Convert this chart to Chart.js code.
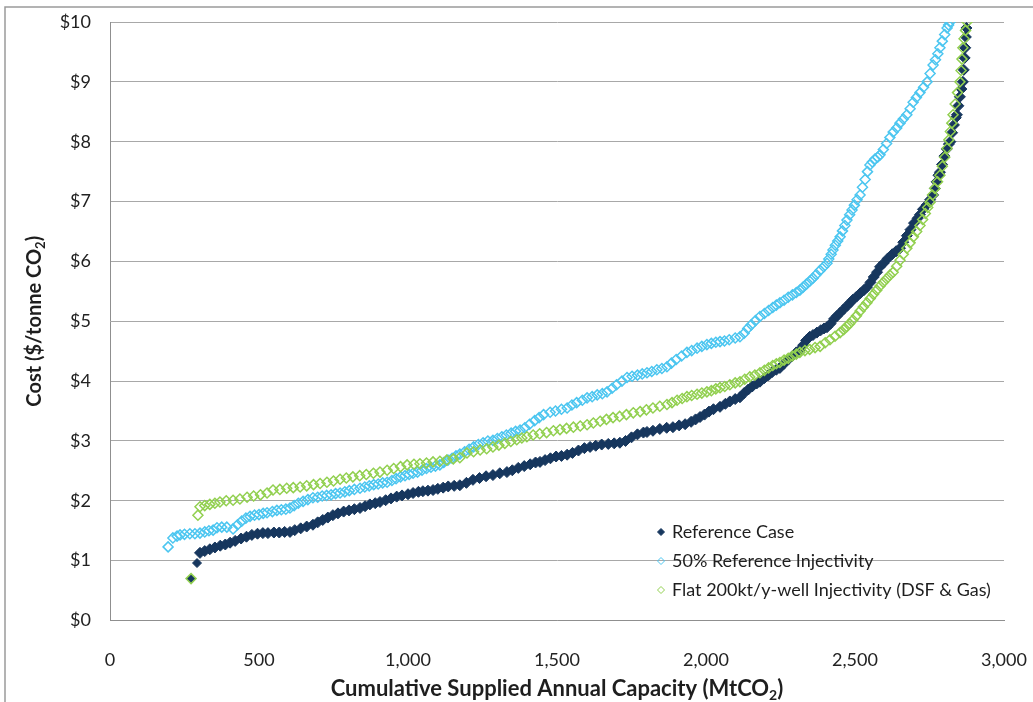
<!DOCTYPE html>
<html>
<head>
<meta charset="utf-8">
<style>
  html, body { margin: 0; padding: 0; background: #fff; }
  #wrap { position: relative; width: 1033px; height: 702px; }
  canvas { display: block; }
</style>
<script src="https://cdn.jsdelivr.net/npm/chart.js@4/dist/chart.umd.min.js"></script>
</head>
<body>
<div id="wrap"><canvas id="c" width="1033" height="702"></canvas></div>
<script>
// Cumulative supplied annual capacity (MtCO2) vs. cost ($/tonne CO2)
const seriesNames = [
  'Reference Case',
  '50% Reference Injectivity',
  'Flat 200kt/y-well Injectivity (DSF & Gas)'
];

const refCapacity = [272,292,302,318,335,352,370,387,403,420,440,458,476,495,513,530,550,568,586,604,620,640,660,681,697,714,731,748,765,784,802,820,839,856,872,890,906,925,943,962,980,1000,1017,1035,1050,1067,1084,1100,1118,1135,1155,1174,1196,1218,1240,1262,1285,1308,1332,1350,1370,1390,1410,1428,1443,1460,1478,1497,1515,1534,1552,1572,1592,1611,1630,1650,1672,1692,1711,1730,1750,1770,1790,1802,1822,1845,1868,1889,1910,1930,1950,1965,1980,1995,2010,2025,2047,2065,2080,2098,2114,2128,2142,2155,2170,2181,2196,2210,2222,2236,2248,2262,2276,2290,2303,2315,2326,2336,2348,2359,2372,2385,2396,2406,2418,2430,2440,2450,2462,2474,2484,2493,2505,2518,2530,2540,2552,2563,2574,2584,2596,2610,2625,2638,2651,2662,2674,2686,2698,2710,2718,2728,2740,2752,2762,2768,2774,2780,2785,2792,2800,2808,2815,2820,2826,2832,2838,2842,2847,2852,2857,2862,2865,2868,2870,2872,2874];
const refCost = [0.70,0.96,1.13,1.16,1.19,1.22,1.25,1.27,1.30,1.33,1.37,1.40,1.43,1.45,1.46,1.46,1.47,1.47,1.48,1.48,1.51,1.54,1.57,1.60,1.64,1.68,1.72,1.76,1.79,1.82,1.84,1.86,1.88,1.91,1.94,1.96,1.98,2.01,2.04,2.07,2.09,2.11,2.13,2.15,2.16,2.17,2.18,2.20,2.22,2.24,2.25,2.26,2.30,2.35,2.38,2.41,2.43,2.46,2.48,2.51,2.55,2.58,2.61,2.64,2.65,2.68,2.71,2.74,2.75,2.77,2.80,2.84,2.88,2.90,2.92,2.94,2.95,2.96,2.97,3.00,3.06,3.11,3.14,3.15,3.17,3.20,3.22,3.23,3.26,3.28,3.32,3.36,3.40,3.44,3.49,3.53,3.57,3.62,3.66,3.70,3.73,3.80,3.86,3.91,3.96,3.99,4.05,4.10,4.15,4.19,4.22,4.29,4.36,4.42,4.48,4.52,4.60,4.68,4.74,4.77,4.81,4.85,4.88,4.90,4.96,5.04,5.09,5.14,5.20,5.26,5.31,5.36,5.41,5.47,5.52,5.57,5.65,5.74,5.82,5.91,5.97,6.05,6.12,6.17,6.22,6.32,6.43,6.53,6.64,6.72,6.78,6.87,6.94,7.03,7.11,7.22,7.33,7.44,7.49,7.62,7.76,7.88,7.96,8.00,8.15,8.28,8.40,8.45,8.60,8.75,8.88,9.00,9.20,9.40,9.57,9.75,9.90];

const halfCapacity = [195,211,225,235,250,268,285,302,318,332,346,359,375,392,413,428,442,456,470,485,500,514,527,545,560,575,590,604,618,632,648,664,681,697,712,727,742,757,772,788,803,820,839,855,870,885,900,915,930,946,960,975,990,1004,1017,1032,1047,1062,1077,1092,1107,1120,1134,1148,1161,1174,1190,1205,1220,1236,1252,1268,1285,1300,1315,1330,1346,1361,1376,1392,1408,1425,1440,1455,1477,1495,1515,1534,1550,1566,1585,1601,1618,1635,1652,1668,1685,1700,1718,1735,1752,1770,1786,1802,1818,1835,1852,1869,1884,1900,1918,1936,1952,1970,1986,2003,2018,2033,2047,2062,2078,2098,2114,2128,2140,2152,2166,2181,2196,2210,2224,2236,2248,2262,2276,2290,2303,2315,2326,2337,2348,2359,2370,2383,2395,2406,2412,2420,2426,2434,2442,2450,2458,2466,2473,2482,2490,2498,2507,2517,2525,2534,2542,2550,2558,2567,2576,2584,2595,2606,2617,2628,2640,2651,2662,2674,2685,2695,2706,2718,2730,2742,2752,2762,2770,2778,2785,2793,2801,2809,2814,2819];
const halfCost = [1.23,1.38,1.41,1.43,1.44,1.45,1.45,1.46,1.48,1.50,1.51,1.55,1.56,1.56,1.53,1.60,1.66,1.71,1.74,1.76,1.77,1.79,1.80,1.82,1.84,1.85,1.86,1.88,1.92,1.96,1.99,2.02,2.05,2.06,2.08,2.09,2.10,2.12,2.13,2.15,2.17,2.19,2.21,2.23,2.25,2.27,2.28,2.30,2.31,2.34,2.37,2.40,2.42,2.44,2.46,2.48,2.51,2.54,2.56,2.58,2.60,2.64,2.68,2.71,2.75,2.78,2.82,2.86,2.90,2.94,2.97,3.00,3.01,3.04,3.07,3.10,3.13,3.16,3.18,3.22,3.28,3.34,3.39,3.44,3.48,3.50,3.53,3.55,3.60,3.64,3.68,3.72,3.74,3.77,3.79,3.82,3.88,3.94,4.00,4.06,4.08,4.10,4.12,4.14,4.16,4.19,4.21,4.24,4.30,4.36,4.42,4.48,4.51,4.55,4.58,4.61,4.63,4.65,4.66,4.67,4.69,4.72,4.74,4.80,4.88,4.94,5.01,5.08,5.13,5.18,5.23,5.27,5.31,5.35,5.40,5.44,5.48,5.52,5.57,5.62,5.67,5.72,5.78,5.85,5.91,5.97,6.04,6.12,6.19,6.27,6.34,6.41,6.51,6.60,6.69,6.78,6.86,6.94,7.03,7.11,7.24,7.37,7.50,7.61,7.66,7.71,7.74,7.78,7.87,7.97,8.07,8.16,8.23,8.31,8.38,8.45,8.55,8.66,8.74,8.82,8.91,9.00,9.14,9.28,9.37,9.47,9.57,9.68,9.79,9.90,9.95,10.0];

const flatCapacity = [272,295,302,318,335,352,369,390,413,436,460,482,505,527,547,570,593,615,638,660,683,705,728,750,772,793,815,838,860,884,906,930,952,975,997,1020,1040,1062,1084,1107,1130,1152,1174,1198,1220,1242,1264,1285,1305,1325,1345,1365,1382,1399,1420,1442,1465,1488,1510,1532,1555,1578,1601,1622,1645,1666,1688,1710,1733,1756,1779,1800,1822,1845,1869,1886,1903,1920,1936,1952,1970,1986,2003,2018,2033,2047,2063,2080,2098,2114,2130,2147,2164,2181,2196,2210,2224,2236,2248,2262,2276,2290,2303,2315,2332,2348,2366,2383,2400,2416,2433,2450,2462,2472,2482,2493,2505,2517,2528,2540,2551,2562,2573,2584,2595,2606,2617,2628,2640,2651,2662,2674,2685,2696,2707,2718,2727,2736,2744,2752,2760,2768,2777,2785,2793,2801,2809,2815,2820,2825,2829,2836,2844,2852,2856,2859,2862,2866,2871,2876];
const flatCost = [0.70,1.76,1.90,1.92,1.94,1.96,1.98,2.00,2.01,2.03,2.06,2.08,2.10,2.13,2.18,2.19,2.21,2.22,2.23,2.25,2.27,2.29,2.31,2.33,2.36,2.38,2.40,2.42,2.44,2.46,2.48,2.51,2.54,2.57,2.60,2.61,2.62,2.63,2.65,2.66,2.68,2.70,2.72,2.80,2.82,2.85,2.87,2.90,2.93,2.96,2.99,3.02,3.05,3.07,3.10,3.12,3.14,3.17,3.19,3.21,3.23,3.25,3.27,3.30,3.33,3.36,3.39,3.41,3.44,3.47,3.49,3.52,3.55,3.58,3.61,3.64,3.68,3.71,3.74,3.76,3.78,3.80,3.82,3.84,3.87,3.89,3.91,3.94,3.97,3.99,4.03,4.07,4.10,4.14,4.18,4.22,4.26,4.29,4.31,4.35,4.38,4.42,4.45,4.48,4.51,4.53,4.56,4.58,4.64,4.69,4.75,4.81,4.86,4.91,4.96,5.02,5.09,5.17,5.24,5.31,5.38,5.45,5.52,5.59,5.65,5.71,5.77,5.82,5.92,6.02,6.12,6.22,6.31,6.41,6.50,6.60,6.70,6.80,6.90,6.99,7.11,7.22,7.33,7.44,7.59,7.74,7.89,8.03,8.17,8.31,8.45,8.63,8.82,9.00,9.19,9.38,9.57,9.72,9.86,10.0];

const xTickValues = [0, 500, 1000, 1500, 2000, 2500, 3000];
const yTickValues = [0, 1, 2, 3, 4, 5, 6, 7, 8, 9, 10];

const FONT = "Lato, 'Open Sans', 'DejaVu Sans', sans-serif";
const NAVY = '#17375e';
const SKY = '#4cc6f0';
const LIME = '#92d050';

const toPoints = (xs, ys) => xs.map((x, i) => ({ x, y: ys[i] }));

const datasets = [
  { label: seriesNames[0], data: toPoints(refCapacity, refCost),
    pointStyle: 'rectRot',
    pointRadius: c => (c.dataIndex < 2 ? 4.5 : 5.5),
    backgroundColor: NAVY, borderColor: NAVY, pointBorderWidth: 1, order: 2 },
  { label: seriesNames[1], data: toPoints(halfCapacity, halfCost),
    pointStyle: 'rectRot', pointRadius: 5,
    backgroundColor: 'rgba(0,0,0,0)', borderColor: SKY, pointBorderWidth: 1.5, order: 1 },
  { label: seriesNames[2], data: toPoints(flatCapacity, flatCost),
    pointStyle: 'rectRot', pointRadius: 5,
    backgroundColor: 'rgba(0,0,0,0)', borderColor: LIME, pointBorderWidth: 1.5, order: 0 }
];

// Frame, axis titles (with subscript 2) and an in-plot legend
const decorations = {
  id: 'decorations',
  beforeDraw(chart) {
    const ctx = chart.ctx;
    ctx.save();
    ctx.strokeStyle = '#9a9a9a';
    ctx.lineWidth = 1.5;
    ctx.beginPath();
    ctx.moveTo(5, 702);
    ctx.lineTo(5, 7);
    ctx.lineTo(1033, 7);
    ctx.stroke();
    ctx.restore();
  },
  afterDraw(chart) {
    const ctx = chart.ctx;
    const area = chart.chartArea;
    ctx.save();
    ctx.fillStyle = '#1e1e1e';

    function drawTitle(parts, cx, cy, size) {
      const bold = 'bold ' + size + 'px ' + FONT;
      const sub = 'bold ' + Math.round(size * 0.65) + 'px ' + FONT;
      let w = 0;
      parts.forEach(p => { ctx.font = p.sub ? sub : bold; w += ctx.measureText(p.t).width; });
      let x = cx - w / 2;
      ctx.textBaseline = 'middle';
      ctx.textAlign = 'left';
      parts.forEach(p => {
        ctx.font = p.sub ? sub : bold;
        ctx.fillText(p.t, x, p.sub ? cy + size * 0.3 : cy);
        x += ctx.measureText(p.t).width;
      });
    }

    const xTitle = [{ t: 'Cumulative Supplied Annual Capacity (MtCO' }, { t: '2', sub: true }, { t: ')' }];
    drawTitle(xTitle, (area.left + area.right) / 2, 689, 22);

    const yTitle = [{ t: 'Cost ($/tonne CO' }, { t: '2', sub: true }, { t: ')' }];
    ctx.save();
    ctx.translate(35, (area.top + area.bottom) / 2);
    ctx.rotate(-Math.PI / 2);
    drawTitle(yTitle, 0, 0, 20);
    ctx.restore();

    // legend
    const rows = [532, 561, 590];
    ctx.font = '18px ' + FONT;
    ctx.textBaseline = 'middle';
    ctx.textAlign = 'left';
    chart.data.datasets.forEach((ds, i) => {
      const y = rows[i];
      ctx.save();
      ctx.lineWidth = 1;
      ctx.strokeStyle = ds.borderColor;
      ctx.fillStyle = ds.backgroundColor;
      Chart.helpers.drawPoint(ctx, { pointStyle: 'rectRot', radius: 3.5, borderWidth: 1 }, 661, y);
      ctx.restore();
      ctx.fillStyle = '#1e1e1e';
      ctx.fillText(ds.label, 672, y);
    });
    ctx.restore();
  }
};

new Chart(document.getElementById('c'), {
  type: 'scatter',
  data: { datasets },
  options: {
    responsive: false,
    animation: false,
    events: [],
    layout: { padding: { left: 0, right: 29, top: 22, bottom: 0 } },
    scales: {
      x: {
        type: 'linear', min: 0, max: 3000,
        afterBuildTicks: s => { s.ticks = xTickValues.map(v => ({ value: v })); },
        afterFit: s => { s.height = 81.5; s.paddingLeft = 0; s.paddingRight = 0; },
        ticks: {
          callback: v => v.toLocaleString('en-US'),
          font: { family: FONT, size: 18 }, color: '#222', padding: 29, maxRotation: 0
        },
        grid: { display: false, drawTicks: false },
        border: { display: true, color: '#8f8f8f', width: 1 }
      },
      y: {
        type: 'linear', min: 0, max: 10,
        afterBuildTicks: s => { s.ticks = yTickValues.map(v => ({ value: v })); },
        afterFit: s => { s.width = 110; s.paddingTop = 0; s.paddingBottom = 0; },
        ticks: {
          callback: v => '$' + v,
          font: { family: FONT, size: 18 }, color: '#222', padding: 19
        },
        grid: { color: '#a8a8a8', lineWidth: 1, drawTicks: false },
        border: { display: true, color: '#8f8f8f', width: 1 }
      }
    },
    plugins: { legend: { display: false }, tooltip: { enabled: false } }
  },
  plugins: [decorations]
});
</script>
</body>
</html>
